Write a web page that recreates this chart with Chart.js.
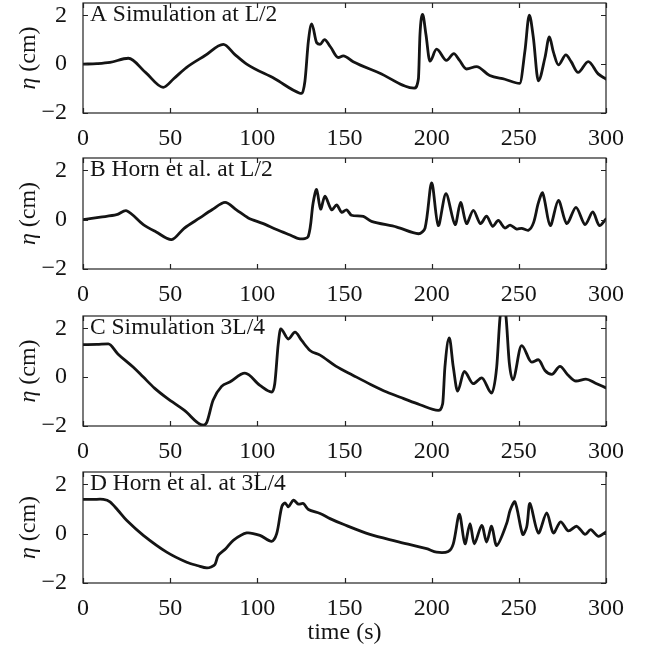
<!DOCTYPE html>
<html><head><meta charset="utf-8">
<script src="https://cdn.jsdelivr.net/npm/chart.js@4"></script>
<style>
html,body{margin:0;padding:0;background:#fff;}
#wrap{position:relative;width:652px;height:651px;overflow:hidden;background:#fff;}
canvas{position:absolute;left:0;}
</style></head><body><div id="wrap"></div>
<script>
const xTicks = [0, 50, 100, 150, 200, 250, 300];
const yTicks = [-2, 0, 2];
const panelLabels = ['A Simulation at L/2', 'B Horn et al. at L/2', 'C Simulation 3L/4', 'D Horn et al. at 3L/4'];
const xTitleText = 'time (s)';
const yTitleSymbol = 'η';
const yTitleUnit = ' (cm)';

const tA = [0, 8, 15.5, 26, 36, 46, 52, 59.3, 70, 80.5, 87, 93.9, 110, 124.3, 125.5, 127.3, 129.3, 131.2, 134, 136, 138.5, 142, 146.4, 149.3, 155, 170, 190, 192.4, 193.3, 194.8, 196.7, 199, 202.8, 208.5, 212.7, 216, 220, 225.7, 233.3, 242, 250.5, 253.5, 256, 258.3, 261.2, 265, 267.5, 269.8, 272.7, 277, 280, 284, 289.8, 295.5, 300];
const vA = [0, 0.02, 0.07, 0.24, -0.35, -0.95, -0.6, -0.14, 0.35, 0.81, 0.4, 0, -0.6, -1.19, -1.2, -0.7, 0.95, 1.65, 0.88, 0.81, 1.0, 0.7, 0.27, 0.34, 0.1, -0.36, -0.98, -0.6, 1.22, 2.03, 1.22, 0.12, 0.61, 0.15, 0.43, 0.15, -0.2, -0.1, -0.47, -0.62, -0.79, 0.54, 2.0, 1.1, -0.68, 0.27, 1.11, 0.5, -0.03, 0.38, 0.1, -0.34, 0.1, -0.4, -0.61];

const tB = [0, 10, 19.3, 25, 34.6, 42, 50.8, 58, 67, 74, 81.5, 88, 94.8, 103, 111, 118, 124.5, 129.2, 132, 134, 136.3, 138.8, 142.6, 145.5, 148.3, 151.2, 154, 160.8, 165.5, 180, 192.4, 196.2, 200, 203.8, 208.2, 213.4, 216.6, 220, 223.9, 228, 231.5, 235, 238.2, 242, 245, 248.8, 251.6, 255.5, 258.4, 261.2, 263.7, 268, 272.7, 277.5, 282.8, 288, 292.4, 296.2, 300];
const vB = [0, 0.1, 0.2, 0.36, -0.2, -0.5, -0.81, -0.35, 0.07, 0.4, 0.70, 0.4, 0.07, -0.15, -0.4, -0.6, -0.78, -0.68, 0.68, 1.22, 0.43, 0.95, 0.4, 0.6, 0.3, 0.4, 0.18, 0.13, -0.07, -0.3, -0.57, -0.34, 1.49, -0.24, 1.05, -0.2, 0.7, -0.16, 0.38, -0.16, 0.14, -0.27, -0.03, -0.34, -0.22, -0.38, -0.35, -0.43, -0.13, 0.68, 1.08, -0.24, 0.78, -0.16, 0.5, -0.2, 0.31, -0.24, 0.03];

const tC = [0, 8, 14.5, 20, 28.9, 34.6, 41, 48, 58, 69, 71, 74.6, 79.5, 84.2, 92.9, 101.5, 108.2, 110, 112, 113.4, 117.8, 121.6, 125.4, 130.2, 136, 145, 155, 165, 174.2, 184, 193.3, 203.8, 206.3, 207.6, 210.1, 212.4, 214.9, 218.7, 223.9, 228.7, 234.4, 237.3, 239.3, 241, 242.6, 244.5, 246.5, 251.6, 257.4, 261.2, 265, 268.9, 273.6, 278, 282.8, 288.5, 294, 300];
const vC = [1.33, 1.34, 1.36, 0.95, 0.4, 0, -0.45, -0.85, -1.35, -1.97, -1.85, -0.95, -0.38, -0.2, 0.16, -0.34, -0.61, -0.27, 1.36, 1.97, 1.56, 1.84, 1.5, 1.09, 0.9, 0.45, 0.07, -0.3, -0.61, -0.88, -1.13, -1.36, -1.09, 0.41, 1.6, 0.41, -0.57, 0.23, -0.27, -0.03, -0.65, 0.41, 2.5, 2.85, 2.5, 0.6, -0.11, 1.29, 0.61, 0.71, 0.27, 0.11, 0.44, 0.1, -0.16, -0.08, -0.25, -0.44];

const tD = [0, 6, 11.7, 15.5, 20, 25, 34.6, 48, 59.5, 66, 71, 73.5, 75.7, 77.6, 82, 86.2, 93.9, 101.5, 108.2, 111.1, 114, 115.9, 117.8, 120.7, 123.5, 126.4, 129.3, 136, 141.7, 149.3, 164.6, 179.9, 197.1, 202.8, 209.5, 212.4, 215.9, 219.1, 222, 224.5, 228.7, 231.5, 234.4, 237.3, 243, 245, 247.8, 252.2, 254.5, 256.4, 261.2, 266, 269.8, 274, 278.4, 283.2, 288, 291.2, 295.6, 300];
const vD = [1.39, 1.39, 1.39, 1.29, 0.95, 0.54, -0.07, -0.75, -1.16, -1.3, -1.39, -1.35, -1.25, -0.88, -0.6, -0.27, 0.03, -0.07, -0.31, 0, 1.09, 1.25, 1.09, 1.36, 1.2, 1.22, 0.98, 0.82, 0.61, 0.38, -0.03, -0.31, -0.61, -0.75, -0.72, -0.41, 0.79, -0.41, 0.41, -0.41, 0.34, -0.34, 0.3, -0.48, 0.41, 0.95, 1.29, -0.03, 0.27, 1.22, 0.03, 0.84, 0.03, 0.48, 0.11, 0.3, -0.03, 0.16, -0.11, 0.07];

const series = [[tA, vA, true], [tB, vB, false], [tC, vC, true], [tD, vD, false]];
// layout (pixel geometry of each panel's plot box)
const boxes = [[3, 113], [158, 269], [316, 426], [472, 583]];
const PT = 14;
const FAMILY = '"Liberation Serif", "Times New Roman", serif';
const FONT = {family: FAMILY, size: 24};
const INK = '#141414';

const framePlugin = {
  id: 'frame',
  afterDraw(chart, args, opts) {
    const {ctx, chartArea: a, scales: {x, y}} = chart;
    ctx.save();
    ctx.strokeStyle = '#222';
    ctx.lineWidth = 1.2;
    ctx.strokeRect(a.left, a.top, a.right - a.left, a.bottom - a.top);
    ctx.beginPath();
    const L = 5;
    xTicks.forEach(v => {
      const p = Math.round(x.getPixelForValue(v)) + 0.5;
      ctx.moveTo(p, a.bottom); ctx.lineTo(p, a.bottom - L);
      ctx.moveTo(p, a.top); ctx.lineTo(p, a.top + L);
    });
    yTicks.forEach(v => {
      const p = Math.round(y.getPixelForValue(v)) + 0.5;
      ctx.moveTo(a.left, p); ctx.lineTo(a.left + L, p);
      ctx.moveTo(a.right, p); ctx.lineTo(a.right - L, p);
    });
    ctx.stroke();
    ctx.fillStyle = INK;
    ctx.font = '23.5px ' + FAMILY;
    ctx.textBaseline = 'alphabetic';
    ctx.textAlign = 'left';
    ctx.fillText(opts.text, a.left + 7, a.top + 18);
    // y-axis title with italic eta
    const fi = 'italic 24px ' + FAMILY, fn = '24px ' + FAMILY;
    ctx.font = fi; const w1 = ctx.measureText(yTitleSymbol).width;
    ctx.font = fn; const w2 = ctx.measureText(yTitleUnit).width;
    const cy = (a.top + a.bottom) / 2;
    ctx.translate(29, cy);
    ctx.rotate(-Math.PI / 2);
    ctx.textBaseline = 'middle';
    const start = -(w1 + w2) / 2;
    ctx.font = fi; ctx.fillText(yTitleSymbol, start, 0);
    ctx.font = fn; ctx.fillText(yTitleUnit, start + w1, 0);
    ctx.restore();
  }
};

const wrap = document.getElementById('wrap');
series.forEach((s, i) => {
  const [t, v, smooth] = s;
  const [top, bottom] = boxes[i];
  const last = i === series.length - 1;
  const cTop = top - PT;
  const HX = last ? (651 - cTop - PT - (bottom - top)) : 40;
  const H = PT + (bottom - top) + HX;
  const cv = document.createElement('canvas');
  cv.width = 652; cv.height = H;
  cv.style.width = '652px'; cv.style.height = H + 'px';
  cv.style.top = cTop + 'px';
  wrap.appendChild(cv);
  new Chart(cv, {
    type: 'line',
    data: {
      datasets: [{
        data: t.map((tt, k) => ({x: tt, y: v[k]})),
        borderColor: INK,
        borderWidth: 2.8,
        pointRadius: 0,
        fill: false,
        clip: 0,
        tension: smooth ? 0.4 : 0.3,
        cubicInterpolationMode: smooth ? 'monotone' : 'default',
        borderJoinStyle: 'round',
        borderCapStyle: 'round'
      }]
    },
    options: {
      responsive: false,
      animation: false,
      devicePixelRatio: 1,
      layout: {padding: {top: PT, left: 0, right: 46, bottom: 0}},
      plugins: {legend: {display: false}, tooltip: {enabled: false}, frame: {text: panelLabels[i]}},
      scales: {
        x: {
          type: 'linear', min: 0, max: 300,
          grid: {display: false}, border: {display: false},
          ticks: {font: FONT, color: INK, padding: 3, maxRotation: 0, autoSkip: false},
          afterBuildTicks: sc => { sc.ticks = xTicks.map(val => ({value: val})); },
          afterFit: sc => { sc.height = HX; sc.paddingLeft = 0; sc.paddingRight = 0; },
          title: {display: last, text: xTitleText, font: FONT, color: INK, padding: {top: 0, bottom: 4}}
        },
        y: {
          type: 'linear', min: -2, max: 2.5,
          grid: {display: false}, border: {display: false},
          ticks: {font: FONT, color: INK, padding: 8,
            callback: val => val < 0 ? '\u2212' + Math.abs(val) : String(val)},
          afterBuildTicks: sc => { sc.ticks = yTicks.map(val => ({value: val})); },
          afterFit: sc => { sc.width = 83; sc.paddingTop = 0; sc.paddingBottom = 0; },
          title: {display: false}
        }
      }
    },
    plugins: [framePlugin]
  });
});
</script>
</body></html>
